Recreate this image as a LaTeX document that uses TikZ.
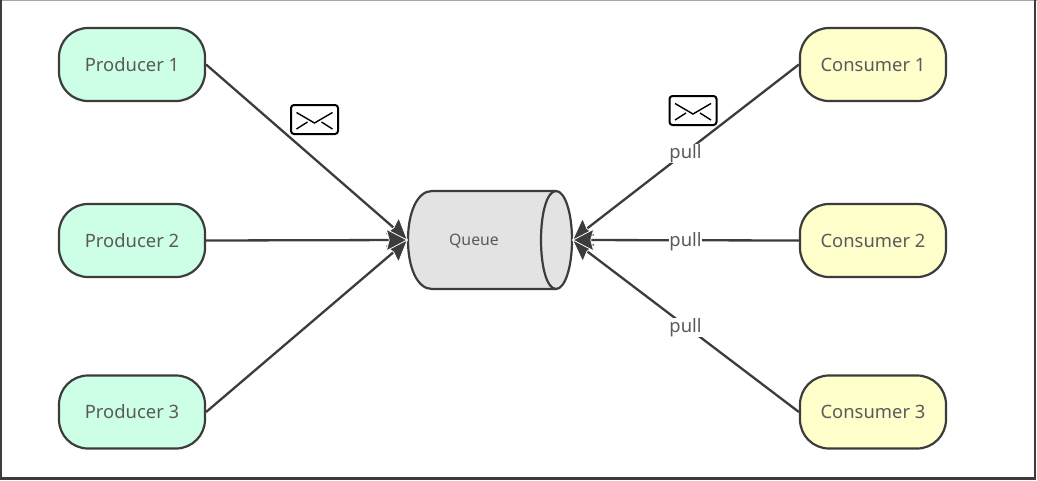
\documentclass[tikz,border=0pt]{standalone}
\usepackage{fontspec}
\setmainfont{Noto Sans}
\usetikzlibrary{arrows.meta}
\definecolor{ink}{HTML}{3C3C3C}
\definecolor{txt}{HTML}{5A5A5A}
\definecolor{prodfill}{HTML}{CCFFE6}
\definecolor{consfill}{HTML}{FFFFCC}
\definecolor{queuefill}{HTML}{E3E3E3}
\tikzset{
  termbox/.style={draw=ink,line width=2.2pt,rounded corners=29pt,minimum width=146pt,minimum height=73pt,inner sep=0pt,text=txt,text height=13.2pt,text depth=0pt,font=\fontsize{18.4}{20}\selectfont},
  prod/.style={termbox,fill=prodfill},
  cons/.style={termbox,fill=consfill},
  link/.style={draw=ink,line width=2.3pt,-{Stealth[length=22pt,width=23pt,inset=3pt,color=white,fill=ink,line width=0.8pt]}},
  pull/.style={midway,yshift=-1.5pt,fill=white,text=txt,inner sep=0.5pt,font=\fontsize{18.4}{20}\selectfont},
  qshape/.style={draw=ink,line width=2.2pt,fill=queuefill},
  mail/.pic={
    \draw[black,line width=2pt,rounded corners=3pt,fill=white] (-23.5,-14.5) rectangle (23.5,14.5);
    \draw[black,line width=1.4pt] (-18,-7) -- (0,3.5) -- (18,-7);
    \draw[black,line width=1.4pt] (-18,9.5) -- (-7,2.5) (7,2.5) -- (18,9.5);
  }
}
\begin{document}
\begin{tikzpicture}[x=1pt,y=-1pt]
\useasboundingbox (0,0) rectangle (1037,480);
\fill[white] (0,0) rectangle (1037,480);
% frame
\draw[color=black!35,line width=1.5pt] (0,0.5) -- (1037,0.5);
\draw[ink,line width=1.5pt] (1,0) -- (1,480);
\draw[ink,line width=2.5pt] (1035,0) -- (1035,478.5) -- (0,478.5);
% nodes
\node[prod] (p1) at (132,64.5) {Producer 1};
\node[prod] (p2) at (132,240.5) {Producer 2};
\node[prod] (p3) at (132,412) {Producer 3};
\node[cons] (c1) at (873,64.5) {Consumer 1};
\node[cons] (c2) at (873,240.5) {Consumer 2};
\node[cons] (c3) at (873,412) {Consumer 3};
% queue
\path[qshape] (556,191) -- (432,191) .. controls (417,191) and (408,213) .. (408,240)
  .. controls (408,267) and (417,289) .. (432,289) -- (556,289)
  .. controls (565,289) and (572,267) .. (572,240)
  .. controls (572,213) and (565,191) .. (556,191) -- cycle;
\draw[ink,line width=2.2pt] (556,191) .. controls (547,191) and (541,213) .. (541,240)
  .. controls (541,267) and (547,289) .. (556,289);
\node[minimum width=164pt,minimum height=98pt,inner sep=0pt] (queue) at (490,240) {};
\node[text=txt,inner sep=0pt,yshift=-1.5pt,font=\fontsize{15.8}{18}\selectfont] (qlabel) at (474,240) {Queue};
% connectors
\draw[link] (p1.east) -- (queue.west);
\draw[link] (p3.east) -- (queue.west);
\draw[link] (p2.east) -- (queue.west);
\draw[link] (c1.west) -- node[pull] (l1) {pull} (queue.east);
\draw[link] (c3.west) -- node[pull] (l3) {pull} (queue.east);
\draw[link] (c2.west) -- node[pull] (l2) {pull} (queue.east);
% envelopes
\pic at (314.5,119.5) {mail};
\pic at (693,110.5) {mail};
\end{tikzpicture}
\end{document}
